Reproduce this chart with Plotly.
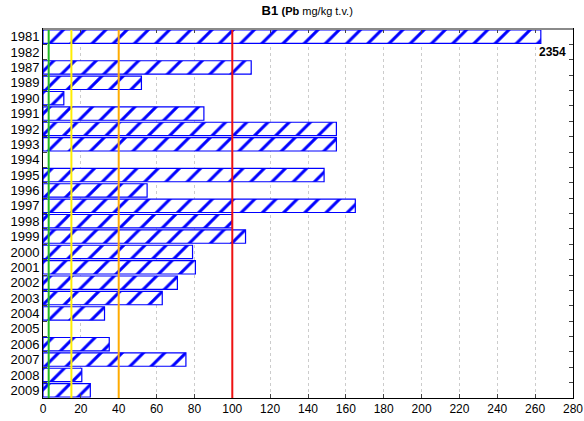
import plotly.graph_objects as go

years = ["1981", "1982", "1987", "1989", "1990", "1991", "1992", "1993", "1994",
         "1995", "1996", "1997", "1998", "1999", "2000", "2001", "2002", "2003",
         "2004", "2005", "2006", "2007", "2008", "2009"]
# displayed bar lengths (1981 is off-scale: true value 2354, drawn truncated)
values = [263, None, 110, 52, 11, 85, 155, 155, None,
          148.5, 55, 165, 100, 107, 79, 80.5, 71, 63,
          32.5, None, 35, 75.5, 20.5, 25]
offscale_year = "1982"
offscale_label = "2354"

limits = [3, 15, 40, 100]
limit_colors = ["#22bb22", "#ffee00", "#ffaa00", "#ee1111"]

x_ticks = list(range(0, 281, 20))

fig = go.Figure()
fig.add_trace(go.Bar(
    y=years, x=values, orientation="h",
    marker=dict(color="white", line=dict(color="#0000ff", width=1.2),
                pattern=dict(shape="/", fgcolor="#0000ff", bgcolor="white",
                             size=15, solidity=0.2, fillmode="replace")),
    showlegend=False, hoverinfo="skip",
))

for v, c in zip(limits, limit_colors):
    fig.add_shape(type="line", x0=v, x1=v, y0=0, y1=1, xref="x", yref="paper",
                  line=dict(color=c, width=2), layer="above")

# grey top frame line
fig.add_shape(type="line", x0=0, x1=1, y0=1, y1=1, xref="paper", yref="paper",
              line=dict(color="#8a8a8a", width=2), layer="above")

fig.add_annotation(x=280, y=years.index(offscale_year), xref="x", yref="y",
                   text="<b>" + offscale_label + "</b>",
                   showarrow=False, xanchor="right", xshift=-5, font=dict(size=12, color="black"))

fig.update_layout(
    width=584, height=421,
    margin=dict(l=43, r=11, t=29, b=23),
    plot_bgcolor="white", paper_bgcolor="white",
    bargap=0.13,
    font=dict(family="Liberation Sans, Arial", size=12, color="black"),
    title=dict(text="<b><span style='font-size:13px'>B1</span> <span style='font-size:11px'>(Pb</span></b><span style='font-size:11px'> mg/kg t.v.)</span>",
               x=0.526, xanchor="center", y=0.985, yanchor="top", font=dict(size=12)),
    xaxis=dict(range=[0, 280], tickvals=x_ticks, ticks="inside", ticklen=4,
               showgrid=True, gridcolor="#cccccc", griddash="dot", gridwidth=1,
               showline=True, linecolor="black", linewidth=1, mirror="ticks",
               zeroline=False, tickfont=dict(size=12), automargin=False),
    yaxis=dict(type="category", categoryorder="array", categoryarray=years,
               tickmode="array", tickvals=years, ticktext=years,
               range=[len(years) - 0.5, -0.5], ticks="inside", ticklen=4, tickson="boundaries",
               showline=True, linecolor="black", linewidth=1, mirror="ticks",
               showgrid=False, tickfont=dict(size=13), automargin=False),
)

fig.write_html("out.html", config={"displayModeBar": False},
               post_script="document.body.style.margin='0px';document.body.style.overflow='hidden';")
